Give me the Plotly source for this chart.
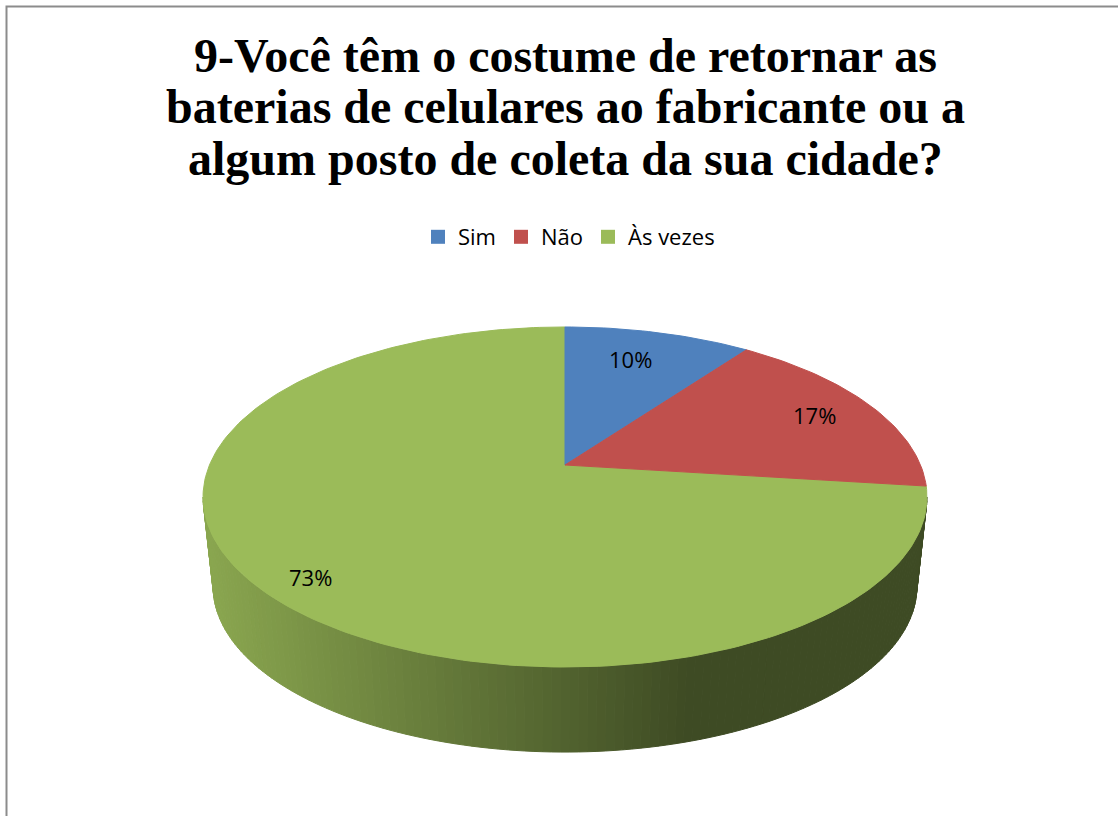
import numpy as np
import plotly.graph_objects as go

# ---------------- data ----------------
categories = ["Sim", "Não", "Às vezes"]
values = [10, 17, 73]
value_labels = ["10%", "17%", "73%"]
title_lines = [
    "9-Você têm o costume de retornar as",
    "baterias de celulares ao fabricante ou a",
    "algum posto de coleta da sua cidade?",
]

# ---------------- style ----------------
colors = ["#4F81BD", "#C0504D", "#9BBB59"]
W, H = 1118, 816
CX, CY = 565.0, 465.0          # projected centre of the pie top
A, B, K = 355.5, 164.0, 0.1882  # projection (half-width, half-height, perspective)
S, OFF = 0.972, 90.7            # bottom face scale and drop (depth)
LABEL_R = [0.76, 0.81, 0.89]
LABEL_SHIFT = [(-8, 2), (0, 0), (12, -3)]
TITLE_X = 565
TITLE_Y = [55, 106.5, 158]
LEGEND_X, LEGEND_Y = 569, 237


def top(theta_deg, r=1.0):
    t = np.radians(theta_deg)
    u = r * np.sin(t)
    v = r * np.cos(t)
    w = 1 + K * v
    return CX + A * u / w, CY - B * v / w


def bottom(theta_deg):
    x, y = top(theta_deg)
    return CX + S * (x - CX), CY + S * (y - CY) + OFF


def hex_to_rgb(h):
    h = h.lstrip("#")
    return tuple(int(h[i:i + 2], 16) for i in (0, 2, 4))


def shade(hexcol, f):
    r, g, b = hex_to_rgb(hexcol)
    return "rgb(%d,%d,%d)" % (round(r * f), round(g * f), round(b * f))


total = float(sum(values))
starts = np.cumsum([0] + values[:-1]) / total * 360.0
ends = np.cumsum(values) / total * 360.0

fig = go.Figure()

# ----- side wall (only the near half is visible) -----
th1 = np.degrees(np.arccos(-K))
th2 = 360 - th1
xl = top(th2)[0]
for i, c in enumerate(colors):
    a0, a1 = max(starts[i], th1), min(ends[i], th2)
    if a1 <= a0:
        continue
    n = max(2, int((a1 - a0) / 1.2))
    ths = np.linspace(a0, a1, n + 1)
    for j in range(n):
        ta, tb = ths[j], ths[j + 1]
        xa, ya = top(ta)
        xb, yb = top(tb)
        xc, yc = bottom(tb)
        xd, yd = bottom(ta)
        xm = (xa + xb) / 2
        t = np.clip((xm - xl) / (690 - xl), 0, 1)
        f = 0.89 - 0.49 * t
        col = shade(c, f)
        fig.add_trace(go.Scatter(
            x=[xa, xb, xc, xd, xa], y=[ya, yb, yc, yd, ya],
            mode="lines", fill="toself", fillcolor=col,
            line=dict(color=col, width=1),
            hoverinfo="skip", showlegend=False))

# ----- top face slices -----
order = [2, 0, 1]
for i in order:
    ths = np.linspace(starts[i], ends[i], max(3, int(values[i] * 3)))
    xs, ys = top(ths)
    xs = np.concatenate([[CX], xs, [CX]])
    ys = np.concatenate([[CY], ys, [CY]])
    fig.add_trace(go.Scatter(
        x=xs, y=ys, mode="lines", fill="toself", fillcolor=colors[i],
        line=dict(color=colors[i], width=1),
        hoverinfo="skip", showlegend=False))

# ----- legend entries -----
for cat, c in zip(categories, colors):
    fig.add_trace(go.Scatter(
        x=[None], y=[None], mode="markers", name=cat,
        marker=dict(symbol="square", size=14, color=c)))

# ----- data labels -----
for i, lab in enumerate(value_labels):
    mid = (starts[i] + ends[i]) / 2
    lx, ly = top(mid, LABEL_R[i])
    fig.add_annotation(x=lx, y=ly, text=lab, showarrow=False,
                       xshift=LABEL_SHIFT[i][0], yshift=LABEL_SHIFT[i][1],
                       font=dict(family="Open Sans", size=22, color="black"),
                       xanchor="center", yanchor="middle")

# ----- title -----
for line, ty in zip(title_lines, TITLE_Y):
    fig.add_annotation(x=TITLE_X, xref="x", y=ty, yref="y", text="<b>" + line + "</b>",
                       showarrow=False, xanchor="center", yanchor="middle",
                       font=dict(family="Liberation Serif, Times New Roman, serif",
                                 size=48, color="black"))

# ----- chart border -----
fig.add_shape(type="rect", xref="x", yref="y", x0=6.5, y0=6.5, x1=1300, y1=1000,
              line=dict(color="#8C8C8C", width=2), fillcolor="rgba(0,0,0,0)", layer="above")

fig.update_layout(
    width=W, height=H,
    margin=dict(l=0, r=0, t=0, b=0),
    paper_bgcolor="white", plot_bgcolor="white",
    xaxis=dict(range=[0, W], visible=False, fixedrange=True),
    yaxis=dict(range=[H, 0], visible=False, fixedrange=True),
    showlegend=True,
    legend=dict(orientation="h", x=LEGEND_X / W, xanchor="center",
                y=1 - LEGEND_Y / H, yanchor="middle",
                font=dict(family="Open Sans", size=22, color="black"),
                bgcolor="rgba(0,0,0,0)"),
)

fig.write_html("out.html")
